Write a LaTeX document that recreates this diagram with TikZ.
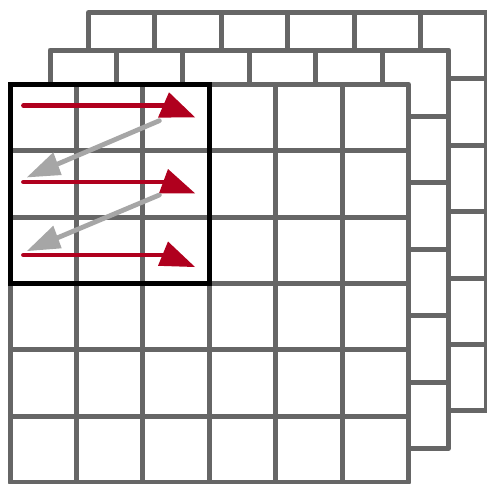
\documentclass[tikz,border=0pt]{standalone}
\usetikzlibrary{calc}
\definecolor{gridgray}{RGB}{102,102,102}
\definecolor{arrred}{RGB}{176,0,30}
\definecolor{arrgray}{RGB}{166,166,166}
\tikzset{
  gridline/.style={draw=gridgray, line width=5pt, line join=round},
  frameline/.style={draw=black, line width=5pt},
  redshaft/.style={draw=arrred, line width=4.8pt, line cap=round},
  grayshaft/.style={draw=arrgray, line width=4.8pt, line cap=round},
  redhead/.style={fill=arrred},
  grayhead/.style={fill=arrgray}
}
\newcommand{\gridlayer}[2]{%
  \fill[white] (#1,#2) rectangle ++(398.4,398.4);
  \foreach \i in {0,...,6}{
    \draw[gridline] (#1+\i*66.4,#2) -- ++(0,398.4);
    \draw[gridline] (#1,#2+\i*66.4) -- ++(398.4,0);
  }
  \draw[gridline] (#1,#2) rectangle ++(398.4,398.4);
}
\begin{document}
\begin{tikzpicture}[x=1pt,y=-1pt]
\useasboundingbox (0,0) rectangle (487,483);
% back, middle, front layers
\gridlayer{88.5}{12.5}
\gridlayer{50}{50}
\gridlayer{10}{84.3}
% black window frame
\draw[frameline] (10,84.3) rectangle (209.2,283.5);
% named coordinates (shaft start, arrow tip)
\coordinate (r1s) at (23.5,105.5);
\coordinate (r1e) at (195,117.3);
\coordinate (r2s) at (23.5,182);
\coordinate (r2e) at (195,193.3);
\coordinate (r3s) at (23.5,255);
\coordinate (r3e) at (195,267);
\coordinate (g1s) at (159.3,120.7);
\coordinate (g1e) at (27,177.3);
\coordinate (g2s) at (159.3,195);
\coordinate (g2e) at (27,251);
% red arrows: shaft then skewed head
\draw[redshaft] (r1s) -- ++(151.5,0);
\fill[redhead] (r1e) -- ++(-26,-25) -- ++(-11,25.3) -- cycle;
\draw[redshaft] (r2s) -- ++(151.5,0);
\fill[redhead] (r2e) -- ++(-27,-24.3) -- ++(-9,24.3) -- cycle;
\draw[redshaft] (r3s) -- ++(151.5,0);
\fill[redhead] (r3e) -- ++(-27,-25.5) -- ++(-10,24.3) -- cycle;
% gray arrows
\draw[grayshaft] (g1s) -- ($(g1e)+(30,-13)$);
\fill[grayhead] (g1e) -- ++(26.3,-25) -- ++(8.4,22.7) -- cycle;
\draw[grayshaft] (g2s) -- ($(g2e)+(30,-13)$);
\fill[grayhead] (g2e) -- ++(26.3,-25.3) -- ++(8.4,22.6) -- cycle;
\end{tikzpicture}
\end{document}
